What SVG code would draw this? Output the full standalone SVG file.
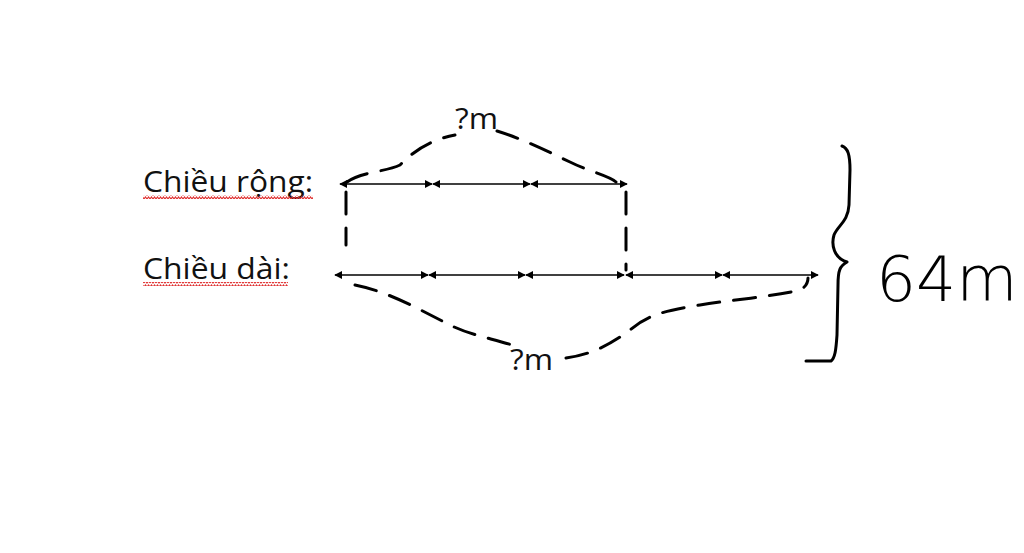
<svg xmlns="http://www.w3.org/2000/svg" width="1024" height="553" viewBox="0 0 1024 553">
<style>
.lbl{font-family:"Open Sans","Liberation Sans",sans-serif;font-size:30px;fill:#111}
.seg{stroke:#000;stroke-width:1.6;fill:none;marker-start:url(#a);marker-end:url(#a)}
.dash{stroke:#000;stroke-width:3;fill:none;stroke-dasharray:22 14;stroke-linecap:round}
.hand{stroke:#000;stroke-width:3;fill:none;stroke-linecap:round;stroke-linejoin:round}
.wave{stroke:#e03030;stroke-width:1.2;fill:none}
</style>
<defs>
<marker id="a" viewBox="0 0 10 10" refX="9" refY="5" markerWidth="5" markerHeight="5" orient="auto-start-reverse" markerUnits="strokeWidth">
<path d="M0,0 L10,5 L0,10 z" fill="#000"/>
</marker>
<pattern id="wv" width="6" height="4" patternUnits="userSpaceOnUse">
<path d="M0,3 L1.5,1 L3,3 L4.5,1 L6,3" class="wave"/>
</pattern>
</defs>
<rect width="1024" height="553" fill="#fff"/>
<g id="label-width">
<text class="lbl" x="143" y="192" textLength="170" lengthAdjust="spacingAndGlyphs">Chiều rộng:</text>
<rect x="143" y="195" width="170" height="4" fill="url(#wv)"/>
</g>
<g id="label-length">
<text class="lbl" x="143" y="279" textLength="147" lengthAdjust="spacingAndGlyphs">Chiều dài:</text>
<rect x="143" y="282" width="145" height="4" fill="url(#wv)"/>
</g>
<g id="connectors">
<line class="seg" x1="340" y1="184" x2="432" y2="184"/>
<line class="seg" x1="433" y1="184" x2="530" y2="184"/>
<line class="seg" x1="531" y1="184" x2="627" y2="184"/>
<line class="seg" x1="335" y1="275" x2="428" y2="275"/>
<line class="seg" x1="429" y1="275" x2="525" y2="275"/>
<line class="seg" x1="526" y1="275" x2="624" y2="275"/>
<line class="seg" x1="626" y1="275" x2="722" y2="275"/>
<line class="seg" x1="723" y1="275" x2="818" y2="275"/>
<path class="dash" d="M346,192 L346,245" stroke-dasharray="20 14"/>
<path class="dash" d="M626,192 L626,270" stroke-dasharray="24 12"/>
<path class="dash" d="M347,182 C360,172 385,172 400,165 C415,150 430,140 455,135 M497,131 C520,138 545,150 570,162 C590,172 610,176 616,182"/>
<path class="dash" d="M355,285 C390,292 420,310 450,325 C470,335 490,338 512,345 M566,358 C590,355 610,345 630,330 C650,313 670,310 700,305 C730,300 770,297 800,290 C806,287 808,282 808,278"/>
</g>
<g id="label-q-top"><text class="lbl" x="455" y="129" textLength="43" lengthAdjust="spacingAndGlyphs">?m</text></g>
<g id="label-q-bottom"><text class="lbl" x="510" y="370" textLength="43" lengthAdjust="spacingAndGlyphs">?m</text></g>
<g id="brace">
<path class="hand" d="M842,146 C848,148 850,155 850,170 L849,205 C848,222 838,225 834,235 C831,245 834,258 847,262 C840,266 838,270 838,285 L837,335 C836,350 835,358 831,361 L806,361"/>
</g>
<g id="total">
<text x="876" y="301" font-family="DejaVu Sans,sans-serif" font-weight="200" font-size="63" fill="#000">64m</text>
</g>
</svg>
